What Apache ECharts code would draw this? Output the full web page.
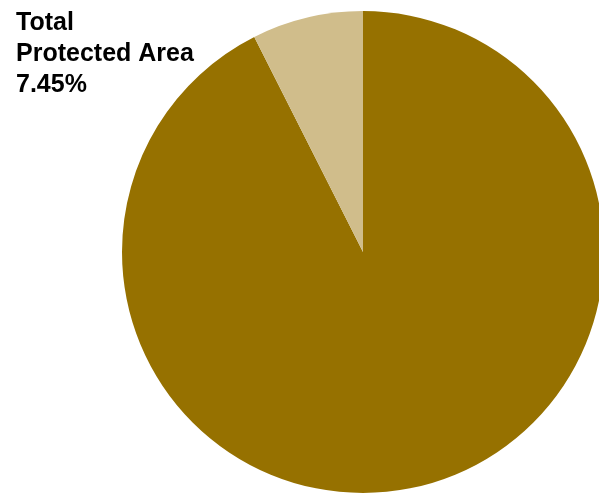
<!DOCTYPE html>
<html>
<head>
<meta charset="utf-8">
<script src="https://cdn.jsdelivr.net/npm/echarts@6/dist/echarts.min.js"></script>
<style>html,body{margin:0;padding:0;background:#fff}#c{width:599px;height:493px}</style>
</head>
<body>
<div id="c"></div>
<script>
const categories = ['Other Area', 'Total Protected Area'];
const values = [92.55, 7.45];
const colors = ['#967100', '#d0bd8b'];
const labelLines = ['Total', 'Protected Area', '7.45%'];

const chart = echarts.init(document.getElementById('c'), null, {renderer: 'canvas'});
chart.setOption({
  animation: false,
  backgroundColor: '#ffffff',
  title: {
    text: labelLines.join('\n'),
    left: 11,
    top: 3,
    textStyle: {
      fontFamily: 'Liberation Sans, Arial, sans-serif',
      fontWeight: 'bold',
      fontSize: 25,
      lineHeight: 31,
      color: '#000'
    }
  },
  series: [{
    type: 'pie',
    center: [363, 252],
    radius: 241,
    startAngle: 90,
    clockwise: true,
    label: {show: false},
    labelLine: {show: false},
    emphasis: {disabled: true},
    itemStyle: {borderWidth: 0},
    data: categories.map((c, i) => ({name: c, value: values[i], itemStyle: {color: colors[i]}}))
  }]
});
</script>
</body>
</html>
